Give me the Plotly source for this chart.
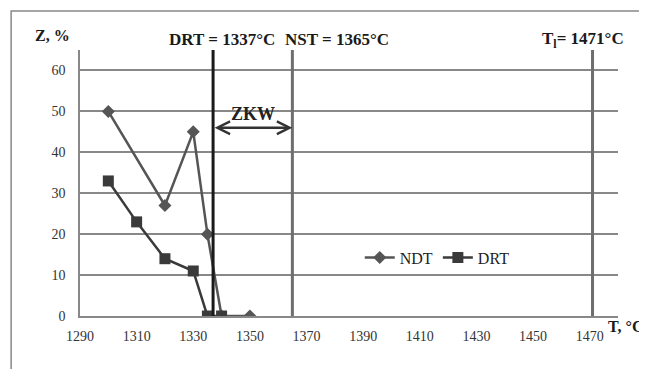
import plotly.graph_objects as go

# Data
ndt_T = [1300, 1320, 1330, 1335, 1340, 1350]
ndt_Z = [50, 27, 45, 20, 0, 0]
drt_T = [1300, 1310, 1320, 1330, 1335, 1340]
drt_Z = [33, 23, 14, 11, 0, 0]
x_ticks = [1290, 1310, 1330, 1350, 1370, 1390, 1410, 1430, 1450, 1470]
y_ticks = [0, 10, 20, 30, 40, 50, 60]
vlines_T = [1337, 1365, 1471]
vlines_label = ["<b>DRT = 1337°C</b>", "<b>NST = 1365°C</b>", "<b>T<sub>l</sub>= 1471°C</b>"]
vlines_color = ["#1a1a1a", "#6e6e6e", "#6e6e6e"]
vlines_label_shift = [9, 45, -10]
zkw_from, zkw_to, zkw_level = 1337, 1365, 46

SERIF = "'Times New Roman', 'Liberation Serif', serif"

fig = go.Figure()
fig.add_trace(go.Scatter(x=ndt_T, y=ndt_Z, name="NDT", mode="lines+markers",
                         line=dict(color="#555555", width=2.5),
                         marker=dict(symbol="diamond", size=10, color="#555555")))
fig.add_trace(go.Scatter(x=drt_T, y=drt_Z, name="DRT", mode="lines+markers",
                         line=dict(color="#3a3a3a", width=2.5),
                         marker=dict(symbol="square", size=11, color="#3a3a3a")))

for T, c, lab, sh in zip(vlines_T, vlines_color, vlines_label, vlines_label_shift):
    fig.add_shape(type="line", x0=T, x1=T, y0=0, y1=65, xref="x", yref="y",
                  line=dict(color=c, width=3))
    fig.add_annotation(x=T, y=1.038, xref="x", yref="paper", text=lab,
                       showarrow=False, xanchor="center", yanchor="middle", xshift=sh,
                       font=dict(family=SERIF, size=17, color="#1a1a1a"))

# ZKW arrow
fig.add_annotation(x=zkw_to, y=zkw_level, ax=zkw_from, ay=zkw_level,
                   xref="x", yref="y", axref="x", ayref="y", text="",
                   showarrow=True, arrowhead=5, arrowside="end+start",
                   arrowsize=1, arrowwidth=2.5, arrowcolor="#333333")
fig.add_annotation(x=(zkw_from + zkw_to) / 2, y=49.4, xref="x", yref="y",
                   text="<b>ZKW</b>", showarrow=False,
                   font=dict(family=SERIF, size=18, color="#222222"))

# axis titles
fig.add_annotation(x=-0.052, y=1.053, xref="paper", yref="paper", text="<b>Z, %</b>",
                   showarrow=False, xanchor="center", yanchor="middle",
                   font=dict(family=SERIF, size=16, color="#1a1a1a"))
fig.add_annotation(x=1.050, y=-0.041, xref="paper", yref="paper", text="<b>T, °C</b>",
                   showarrow=False, xanchor="right", yanchor="middle",
                   font=dict(family=SERIF, size=16, color="#1a1a1a"))

# outer border
fig.add_shape(type="rect", xref="paper", yref="paper",
              x0=-0.128, x1=1.2, y0=-0.5, y1=1.147,
              line=dict(color="#888888", width=1.5), layer="below")

fig.update_layout(
    width=647, height=369,
    margin=dict(l=72, r=37, t=42, b=61),
    paper_bgcolor="white", plot_bgcolor="white",
    font=dict(family=SERIF, size=14, color="#333333"),
    showlegend=True,
    legend=dict(orientation="h", x=0.52, y=0.22, xanchor="left", yanchor="middle",
                bgcolor="rgba(0,0,0,0)", font=dict(family=SERIF, size=16, color="#222222"),
                itemwidth=30, tracegroupgap=0),
    xaxis=dict(range=[1290, 1480], tickvals=x_ticks, showgrid=False, zeroline=False,
               showline=True, linecolor="#888888", linewidth=1.5, ticks="",
               ticklabelstandoff=6,
               tickfont=dict(family=SERIF, size=14, color="#333333")),
    yaxis=dict(range=[0, 65], tickvals=y_ticks, showgrid=True, gridcolor="#888888",
               gridwidth=1.5, zeroline=False, showline=True, linecolor="#888888",
               linewidth=1.5, ticks="", ticklabelstandoff=10,
               tickfont=dict(family=SERIF, size=14, color="#333333")),
)

fig.write_html("out.html")
